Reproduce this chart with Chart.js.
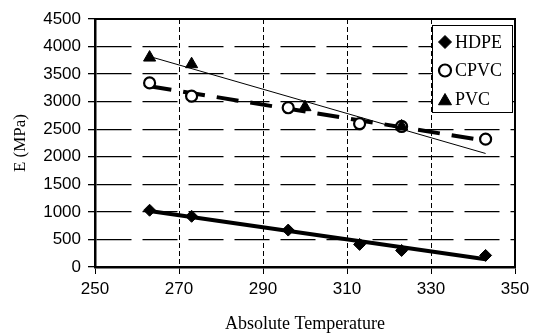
<!DOCTYPE html>
<html>
<head>
<meta charset="utf-8">
<script src="https://cdn.jsdelivr.net/npm/chart.js@4"></script>
<style>
  html, body { margin: 0; padding: 0; background: #fff; }
  #wrap { width: 536px; height: 335px; }
</style>
</head>
<body>
<div id="wrap"><canvas id="chart"></canvas></div>
<script>
// values (temperature in K, modulus in MPa)
var hdpeT = [263, 273, 296, 313, 323, 343];
var hdpeE = [1030, 920, 670, 410, 300, 210];
var cpvcT = [263, 273, 296, 313, 323, 343];
var cpvcE = [3340, 3100, 2890, 2600, 2550, 2320];
var pvcT = [263, 273, 300, 323];
var pvcE = [3800, 3680, 2900, 2550];

// trend line end points
var hdpeFitT = [263, 343];
var hdpeFitE = [1015, 140];
var cpvcFitT = [263, 343];
var cpvcFitE = [3280, 2290];
var pvcFitT = [263, 343];
var pvcFitE = [3820, 2060];

var xTicks = [250, 270, 290, 310, 330, 350];
var yTicks = [0, 500, 1000, 1500, 2000, 2500, 3000, 3500, 4000, 4500];

function pts(xs, ys) {
  return xs.map(function(x, i) { return {x: x, y: ys[i]}; });
}

var sans = 'Liberation Sans, Arial, sans-serif';
var serif = 'Liberation Serif, Times New Roman, serif';

// plot frame (top and right edges)
var framePlugin = {
  id: 'frame',
  beforeDatasetsDraw: function(chart) {
    var a = chart.chartArea, ctx = chart.ctx;
    ctx.save();
    ctx.strokeStyle = '#000';
    ctx.lineWidth = 2;
    ctx.beginPath();
    ctx.moveTo(a.left, a.top);
    ctx.lineTo(a.right, a.top);
    ctx.lineTo(a.right, a.bottom);
    ctx.stroke();
    ctx.restore();
  }
};

// boxed legend inside the plot, top right
var legendPlugin = {
  id: 'boxLegend',
  afterDraw: function(chart) {
    var ctx = chart.ctx;
    var x0 = 432, y0 = 25, w = 80, h = 87;
    ctx.save();
    ctx.fillStyle = '#fff';
    ctx.fillRect(x0, y0, w, h);
    ctx.strokeStyle = '#000';
    ctx.lineWidth = 1;
    ctx.strokeRect(x0 + 0.5, y0 + 0.5, w, h);
    [0, 1, 2].forEach(function(di, i) {
      var ds = chart.data.datasets[di];
      var cy = y0 + 17 + i * 28.5;
      ctx.fillStyle = ds.backgroundColor;
      ctx.strokeStyle = ds.borderColor;
      ctx.lineWidth = ds.pointBorderWidth;
      Chart.helpers.drawPoint(ctx, {
        pointStyle: ds.pointStyle,
        radius: ds.pointRadius + 0.5,
        borderWidth: ds.pointBorderWidth
      }, x0 + 13, cy + (ds.pointStyle === 'triangle' ? 2 : 0));
      ctx.fillStyle = '#000';
      ctx.font = '18px ' + serif;
      ctx.textBaseline = 'middle';
      ctx.textAlign = 'left';
      ctx.fillText(ds.label, x0 + 23, cy + 1);
    });
    ctx.restore();
  }
};

function plain(v) { return String(v); }

var ctx = document.getElementById('chart').getContext('2d');
new Chart(ctx, {
  type: 'scatter',
  data: {
    datasets: [
      {
        label: 'HDPE', data: pts(hdpeT, hdpeE), pointStyle: 'rectRot',
        pointRadius: 6, pointBorderWidth: 1,
        backgroundColor: '#000', borderColor: '#000', order: 0
      },
      {
        label: 'CPVC', data: pts(cpvcT, cpvcE), pointStyle: 'circle',
        pointRadius: 5.5, pointBorderWidth: 2.2,
        backgroundColor: '#fff', borderColor: '#000', order: 0
      },
      {
        label: 'PVC', data: pts(pvcT, pvcE), pointStyle: 'triangle',
        pointRadius: 7, pointBorderWidth: 1,
        backgroundColor: '#000', borderColor: '#000', order: -1
      },
      {
        label: 'HDPE fit', data: pts(hdpeFitT, hdpeFitE), showLine: true,
        pointRadius: 0, borderColor: '#000', borderWidth: 4, order: 1
      },
      {
        label: 'CPVC fit', data: pts(cpvcFitT, cpvcFitE), showLine: true,
        pointRadius: 0, borderColor: '#000', borderWidth: 4,
        borderDash: [22, 12], order: 1
      },
      {
        label: 'PVC fit', data: pts(pvcFitT, pvcFitE), showLine: true,
        pointRadius: 0, borderColor: '#000', borderWidth: 1, order: 1
      }
    ]
  },
  options: {
    responsive: true,
    maintainAspectRatio: false,
    animation: false,
    layout: { padding: { top: 19, right: 21, left: 0, bottom: 0 } },
    plugins: {
      legend: { display: false },
      tooltip: { enabled: false }
    },
    scales: {
      x: {
        type: 'linear', min: 250, max: 350,
        afterBuildTicks: function(s) { s.ticks = xTicks.map(function(v) { return {value: v}; }); },
        afterFit: function(s) { s.height = 68; },
        grid: { color: '#000', lineWidth: 1, tickLength: 7, tickColor: '#000' },
        border: { color: '#000', width: 2.5, dash: [5, 3] },
        ticks: { color: '#000', font: { family: sans, size: 17 }, padding: 5, maxRotation: 0, callback: plain },
        title: {
          display: true, text: 'Absolute Temperature', color: '#000',
          font: { family: serif, size: 18 }, padding: { top: 0, bottom: 0 }
        }
      },
      y: {
        type: 'linear', min: 0, max: 4500,
        afterBuildTicks: function(s) { s.ticks = yTicks.map(function(v) { return {value: v}; }); },
        afterFit: function(s) { s.width = 95; },
        grid: { color: '#000', lineWidth: 1.3, tickLength: 7, tickColor: '#000' },
        border: { color: '#000', width: 2.5, dash: [35, 11] },
        ticks: { color: '#000', font: { family: sans, size: 17 }, padding: 7, callback: plain },
        title: {
          display: true, text: 'E (MPa)', color: '#000',
          font: { family: serif, size: 17 }, padding: { top: 10, bottom: 0 }
        }
      }
    }
  },
  plugins: [framePlugin, legendPlugin]
});
</script>
</body>
</html>
